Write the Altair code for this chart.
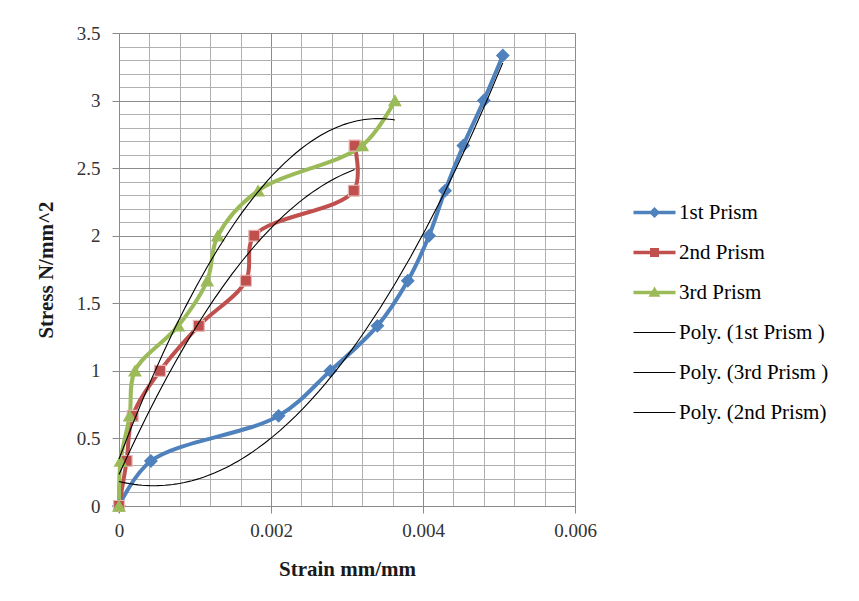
import altair as alt
import pandas as pd

# ---------------- data ----------------
series_names = ["1st Prism", "2nd Prism", "3rd Prism"]
stress_levels = [0, 0.333, 0.667, 1.0, 1.333, 1.667, 2.0, 2.333, 2.667, 3.0, 3.333]

strain_1st = [0, 0.00042, 0.0021, 0.00278, 0.0034, 0.0038, 0.00408, 0.00429, 0.00453, 0.0048, 0.00505]
strain_2nd = [0, 0.0001, 0.00018, 0.00054, 0.00105, 0.00167, 0.00178, 0.00309, 0.0031]
strain_3rd = [0, 0.00002, 0.00014, 0.00021, 0.00078, 0.00116, 0.0013, 0.00183, 0.0032, 0.00363]

legend_labels = ["1st Prism", "2nd Prism", "3rd Prism",
                 "Poly. (1st Prism )", "Poly. (3rd Prism )", "Poly. (2nd Prism)"]
legend_colors = ["#4F81BD", "#C0504D", "#9BBB59", "#000000", "#000000", "#000000"]
marker_shapes = ["diamond", "square", "triangle-up"]
marker_strokes = ["#4F81BD", "#E6B9B8", "#9BBB59"]
marker_sizes = [150, 120, 140]
# legend glyphs: line + marker (unit coordinates, scaled by the legend symbol size)
legend_glyphs = [
    "M-2.1,-0.18H2.1V0.18H-2.1Z M0,-0.55L0.55,0L0,0.55L-0.55,0Z",
    "M-2.1,-0.18H2.1V0.18H-2.1Z M-0.45,-0.45H0.45V0.45H-0.45Z",
    "M-2.1,-0.18H2.1V0.18H-2.1Z M0,-0.6L0.6,0.42L-0.6,0.42Z",
    "M-2.1,-0.06H2.1V0.06H-2.1Z",
    "M-2.1,-0.06H2.1V0.06H-2.1Z",
    "M-2.1,-0.06H2.1V0.06H-2.1Z",
]

x_grid = [round(i * 0.0004, 4) for i in range(16)]
y_grid = [round(i * 0.1, 1) for i in range(36)]

rows = []
for name, strains in zip(series_names, [strain_1st, strain_2nd, strain_3rd]):
    for i, s in enumerate(strains):
        rows.append({"series": name, "strain": s, "stress": stress_levels[i], "idx": i})
df = pd.DataFrame(rows)

FONT = "Liberation Serif"

x_scale = alt.Scale(domain=[0, 0.006], nice=False, zero=True)
y_scale = alt.Scale(domain=[0, 3.5], nice=False)
color_scale = alt.Scale(domain=legend_labels, range=legend_colors)

x_major_test = "abs(datum.value*500 - round(datum.value*500)) < 1e-6"
y_major_test = "abs(datum.value*2 - round(datum.value*2)) < 1e-6"

common_axis = dict(
    labelOverlap=False, labelBound=False, labelFlush=False,
    labelFont=FONT, labelFontSize=19, labelColor="#333333",
    titleFont=FONT, titleFontSize=21, titleFontWeight="bold", titleColor="#1a1a1a",
    gridWidth=1, tickSize=7, tickColor="#8a8a8a", domainColor="#8a8a8a",
)

x_axis = alt.Axis(
    values=x_grid,
    labelExpr=f"{x_major_test} ? (datum.value == 0 ? '0' : format(datum.value, '.3f')) : ''",
    gridColor={"condition": {"test": x_major_test, "value": "#8c8c8c"}, "value": "#b0b0b0"},
    tickOpacity={"condition": {"test": x_major_test, "value": 1}, "value": 0},
    title="Strain mm/mm", labelPadding=8, titlePadding=18, **common_axis,
)
y_axis = alt.Axis(
    values=y_grid,
    labelExpr=f"{y_major_test} ? format(datum.value, '~g') : ''",
    gridColor={"condition": {"test": y_major_test, "value": "#8c8c8c"}, "value": "#b0b0b0"},
    tickOpacity={"condition": {"test": y_major_test, "value": 1}, "value": 0},
    title="Stress N/mm^2", labelPadding=12, titlePadding=20, **common_axis,
)

legend = alt.Legend(
    title=None, orient="none", legendX=525, legendY=169,
    symbolSize=400, labelOffset=14, rowPadding=18, padding=0,
    symbolOpacity=1, symbolStrokeWidth=0,
    labelFont=FONT, labelFontSize=21, labelColor="#000000",
)

base = alt.Chart(df)
enc_x = alt.X("strain:Q", scale=x_scale, axis=x_axis)
enc_y = alt.Y("stress:Q", scale=y_scale, axis=y_axis)
enc_color = alt.Color("series:N", scale=color_scale, legend=legend)

# invisible layer that only carries the legend glyphs
legend_carrier = base.mark_point(filled=True, opacity=0, size=400).encode(
    x=enc_x, y=enc_y, color=enc_color,
    shape=alt.Shape("series:N", scale=alt.Scale(domain=legend_labels, range=legend_glyphs), legend=legend),
)

lines = base.mark_line(interpolate="catmull-rom", strokeWidth=4).encode(
    x=enc_x, y=enc_y, color=enc_color, order=alt.Order("idx:Q"),
)

point_layers = []
for name, shp, stk, sz in zip(series_names, marker_shapes, marker_strokes, marker_sizes):
    point_layers.append(
        base.transform_filter(alt.datum.series == name)
        .mark_point(filled=True, size=sz, opacity=1, shape=shp, stroke=stk, strokeWidth=1.2)
        .encode(x=enc_x, y=enc_y, color=enc_color)
    )

trend = base.transform_regression(
    "strain", "stress", method="poly", order=2, groupby=["series"]
).transform_calculate(
    series="datum.series == '2nd Prism' ? 'Poly. (2nd Prism)' : 'Poly. (' + datum.series + ' )'"
).mark_line(strokeWidth=1.1).encode(
    x=enc_x, y=enc_y, color=enc_color,
)

chart = alt.layer(legend_carrier, lines, *point_layers, trend).properties(
    width=456, height=473,
    autosize=alt.AutoSizeParams(type="none"),
    padding={"left": 111, "top": 25, "right": 270, "bottom": 80},
).configure_view(
    stroke="#8a8a8a"
).configure(background="white")

chart.save("out.html", embed_options={"renderer": "svg", "actions": False})
